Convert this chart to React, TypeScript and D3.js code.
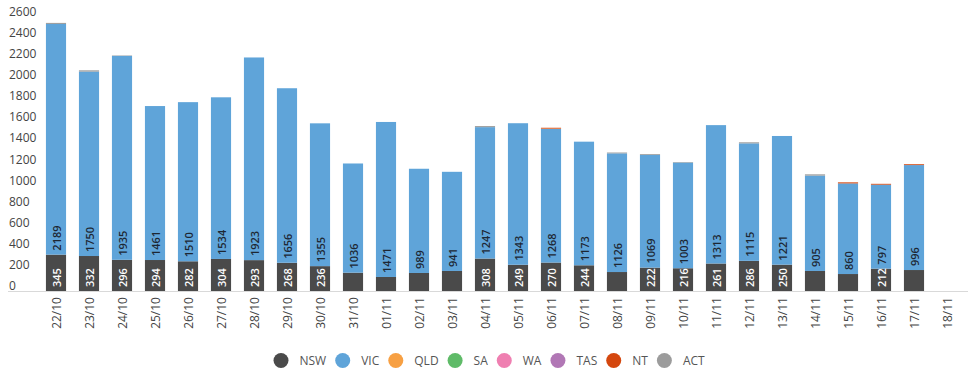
import React, { useEffect, useRef } from "react";
import * as d3 from "d3";

const dates = ["22/10","23/10","24/10","25/10","26/10","27/10","28/10","29/10","30/10","31/10","01/11","02/11","03/11","04/11","05/11","06/11","07/11","08/11","09/11","10/11","11/11","12/11","13/11","14/11","15/11","16/11","17/11","18/11"];
const nsw = [345,332,296,294,282,304,293,268,236,174,133,171,190,308,249,270,244,180,222,216,261,286,250,190,161,212,199,0];
const vic = [2189,1750,1935,1461,1510,1534,1923,1656,1355,1036,1471,989,941,1247,1343,1268,1173,1126,1069,1003,1313,1115,1221,905,860,797,996,0];
const qld = [0,0,0,0,0,0,0,0,0,0,0,0,0,0,0,3,0,0,0,0,0,0,0,0,0,0,0,0];
const sa = new Array(28).fill(0);
const wa = new Array(28).fill(0);
const tas = new Array(28).fill(0);
const nt = [0,0,0,0,0,0,0,0,0,0,0,0,0,0,0,8,0,0,0,0,0,0,0,0,10,8,8,0];
const act = [10,12,4,0,0,0,0,0,0,0,0,0,0,10,0,0,0,8,8,5,0,10,0,12,0,0,0,0];
const yTicks = [0,200,400,600,800,1000,1200,1400,1600,1800,2000,2200,2400,2600];

const seriesNames = ["NSW","VIC","QLD","SA","WA","TAS","NT","ACT"];
const seriesData = [nsw, vic, qld, sa, wa, tas, nt, act];
const colors = ["#4a4a4a","#5fa4d9","#f7a043","#5fbb68","#ef7fb1","#b177b5","#d4470e","#9c9c9c"];
const labelColors = ["#ffffff","#1d2733"];

export default function App() {
  const ref = useRef<SVGSVGElement>(null);
  useEffect(() => {
    const svg = d3.select(ref.current);
    svg.selectAll("*").remove();
    const font = "'Open Sans', sans-serif";
    const x = d3.scaleBand().domain(dates).range([39.5, 963.5]).paddingInner(0.39).paddingOuter(0.195);
    const y = d3.scaleLinear().domain([0, 2600]).range([291, 17]);

    const rows = dates.map((d, i) => {
      const r: any = { date: d };
      seriesNames.forEach((s, k) => (r[s] = seriesData[k][i]));
      return r;
    });
    const stacked = d3.stack().keys(seriesNames)(rows);

    svg.append("g").selectAll("text").data(yTicks).join("text")
      .attr("x", 9).attr("y", (d) => y(d) - 5.5)
      .attr("dominant-baseline", "central")
      .attr("font-family", font).attr("font-size", 12).attr("fill", "#444")
      .text((d) => String(d));

    svg.append("line").attr("x1", 8).attr("x2", 968).attr("y1", 291.5).attr("y2", 291.5)
      .attr("stroke", "#d9d9d9").attr("stroke-width", 1);

    const g = svg.append("g");
    stacked.forEach((layer, k) => {
      g.append("g").selectAll("rect").data(layer).join("rect")
        .attr("x", (d: any) => x(d.data.date)!)
        .attr("width", x.bandwidth())
        .attr("y", (d: any) => y(d[1]))
        .attr("height", (d: any) => Math.max(0, y(d[0]) - y(d[1])))
        .attr("fill", colors[k]);
    });

    [0, 1].forEach((k) => {
      const layer = stacked[k];
      g.append("g").selectAll("text")
        .data(layer.filter((d: any) => d[1] - d[0] > 0 && y(d[0]) - y(d[1]) >= 22))
        .join("text")
        .attr("transform", (d: any) => `translate(${x(d.data.date)! + x.bandwidth() / 2},${y(d[0]) - 4}) rotate(-90)`)
        .attr("text-anchor", "start").attr("dominant-baseline", "central")
        .attr("font-family", font).attr("font-size", 11).attr("font-weight", 600)
        .attr("fill", labelColors[k])
        .text((d: any) => String(d[1] - d[0]));
    });

    svg.append("g").selectAll("text").data(dates).join("text")
      .attr("transform", (d) => `translate(${x(d)! + x.bandwidth() / 2},297) rotate(-90)`)
      .attr("text-anchor", "end").attr("dominant-baseline", "central")
      .attr("font-family", font).attr("font-size", 12).attr("fill", "#444")
      .text((d) => d);

    const leg = svg.append("g");
    let cx = 281;
    seriesNames.forEach((s, k) => {
      leg.append("circle").attr("cx", cx).attr("cy", 360.5).attr("r", 7.5).attr("fill", colors[k]);
      const t = leg.append("text").attr("x", cx + 18.5).attr("y", 360.5)
        .attr("dominant-baseline", "central")
        .attr("font-family", font).attr("font-size", 12).attr("fill", "#555").text(s);
      const w = (t.node() as SVGTextElement).getComputedTextLength();
      cx = cx + 18.5 + w + 16.5;
    });
  }, []);
  return (
    <svg ref={ref} width={980} height={379} style={{ position: "absolute", left: 0, top: 0, background: "#fff" }} />
  );
}
